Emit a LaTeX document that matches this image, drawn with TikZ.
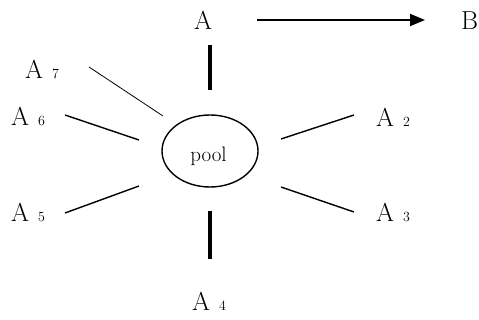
\documentclass[tikz,border=0pt]{standalone}
\usetikzlibrary{arrows.meta}

\tikzset{
  lab/.style={inner sep=0pt, anchor=base west, font=\fontsize{26}{30}\selectfont},
  spoke/.style={line width=1.4pt},
  thinspoke/.style={line width=0.8pt},
  stem/.style={line width=3.5pt},
}
\newcommand{\idx}[1]{\hspace{9pt}{\fontsize{14}{16}\selectfont #1}}

\begin{document}
\begin{tikzpicture}[x=1pt,y=-1pt]
  \useasboundingbox (0,0) rectangle (479,320);

  % pool
  \draw[line width=1.4pt] (210,151) ellipse (48 and 36);
  \node[inner sep=0pt, anchor=base, font=\fontsize{21}{24}\selectfont] (pool) at (208.5,162) {pool};

  % labels
  \node[lab] (a)  at (194,30)  {A};
  \node[lab] (b)  at (461,30)  {B};
  \node[lab] (a7) at (25,79)   {A\idx{7}};
  \node[lab] (a6) at (11,126)  {A\idx{6}};
  \node[lab] (a5) at (11,222)  {A\idx{5}};
  \node[lab] (a2) at (376,127) {A\idx{2}};
  \node[lab] (a3) at (376,222) {A\idx{3}};
  \node[lab] (a4) at (192,310) {A\idx{4}};

  % line ends
  \coordinate (ar)  at (257,20);  \coordinate (br)  at (425,20);
  \coordinate (s1a) at (210,45);  \coordinate (s1b) at (210,90);
  \coordinate (s2a) at (281,139); \coordinate (s2b) at (354,115);
  \coordinate (s3a) at (281,187); \coordinate (s3b) at (354,212);
  \coordinate (s4a) at (210,211); \coordinate (s4b) at (210,259);
  \coordinate (s5a) at (139,186); \coordinate (s5b) at (65,213);
  \coordinate (s6a) at (139,140); \coordinate (s6b) at (65,115);
  \coordinate (s7a) at (163,116); \coordinate (s7b) at (89,67);

  \draw[line width=2pt,-{Triangle[length=15pt,width=12pt]}] (ar) -- (br);

  \draw[stem] (s1a) -- (s1b);
  \draw[stem] (s4a) -- (s4b);
  \draw[spoke] (s2a) -- (s2b);
  \draw[spoke] (s3a) -- (s3b);
  \draw[spoke] (s5a) -- (s5b);
  \draw[spoke] (s6a) -- (s6b);
  \draw[thinspoke] (s7a) -- (s7b);
\end{tikzpicture}
\end{document}
